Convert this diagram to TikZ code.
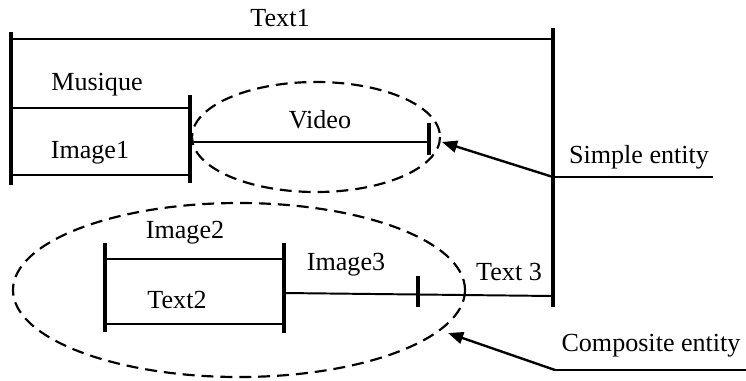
\documentclass[tikz,border=0pt]{standalone}
\usepackage{fontspec}
\setmainfont{Liberation Serif}
\usetikzlibrary{arrows.meta}
\tikzset{
	bar/.style={line width=1.5pt},
	rail/.style={line width=0.9pt},
	group/.style={line width=1pt, dash pattern=on 5.5pt off 3.2pt},
	pointer/.style={line width=1.1pt, -{Triangle[length=7pt,width=5.5pt]}},
	lbl/.style={font=\fontsize{12}{14}\selectfont, inner sep=0pt}
}
\begin{document}
\begin{tikzpicture}[x=0.46pt, y=-0.46pt]
		%%%%% START %%%%%
		\useasboundingbox (0,0) rectangle (746,380);
		
		% Text1 sequence
		\coordinate (t1l) at (11,39);
		\coordinate (t1r) at (553,39);
		\draw[bar] (11,32) -- (11,185);
		\draw[bar] (553,28) -- (553,307);
		\draw[rail] (t1l) -- (t1r);
		\node[lbl] (text1) at (280,18) {Text1};
		
		% Musique / Image1
		\coordinate (mul) at (11,108);
		\coordinate (mur) at (190,108);
		\coordinate (iml) at (11,175);
		\coordinate (imr) at (190,175);
		\draw[rail] (mul) -- (mur);
		\draw[rail] (iml) -- (imr);
		\draw[bar] (190,95) -- (190,183);
		\node[lbl] (musique) at (97,85) {Musique};
		\node[lbl] (image1) at (90,153) {Image1};
		
		% Video
		\coordinate (vil) at (190,142);
		\coordinate (vir) at (429,142);
		\draw[rail] (vil) -- (vir);
		\draw[bar] (429,123) -- (429,155);
		\node[lbl] (video) at (320,120) {Video};
		\draw[group] (316,137) ellipse [x radius=124, y radius=55];
		
		% Image2 / Text2
		\coordinate (i2l) at (105,259);
		\coordinate (i2r) at (284,259);
		\coordinate (t2l) at (105,324);
		\coordinate (t2r) at (284,324);
		\draw[bar] (105,243) -- (105,332);
		\draw[bar] (284,243) -- (284,333);
		\draw[rail] (i2l) -- (i2r);
		\draw[rail] (t2l) -- (t2r);
		\node[lbl] (image2) at (185,233) {Image2};
		\node[lbl] (text2) at (177,300) {Text2};
		
		% Image3 / Text 3
		\coordinate (i3l) at (284,293);
		\coordinate (i3r) at (553,296);
		\draw[rail] (i3l) -- (i3r);
		\draw[bar] (418,276) -- (418,307);
		\node[lbl] (image3) at (346,265) {Image3};
		\node[lbl] (text3) at (509,272) {Text 3};
		\draw[group] (239,290) ellipse [x radius=226, y radius=87];
		
		% Simple entity
		\coordinate (se) at (553,177);
		\coordinate (seend) at (713,177);
		\coordinate (setip) at (442,142);
		\draw[rail] (se) -- (seend);
		\draw[pointer] (se) -- (setip);
		\node[lbl] (simple) at (639,157) {Simple entity};
		
		% Composite entity
		\coordinate (ce) at (555,370);
		\coordinate (ceend) at (746,370);
		\coordinate (cetip) at (448,333);
		\draw[rail] (ce) -- (ceend);
		\draw[pointer] (ce) -- (cetip);
		\node[lbl] (composite) at (651,346) {Composite entity};
		
		%%%%% END %%%%%
\end{tikzpicture}
\end{document}
